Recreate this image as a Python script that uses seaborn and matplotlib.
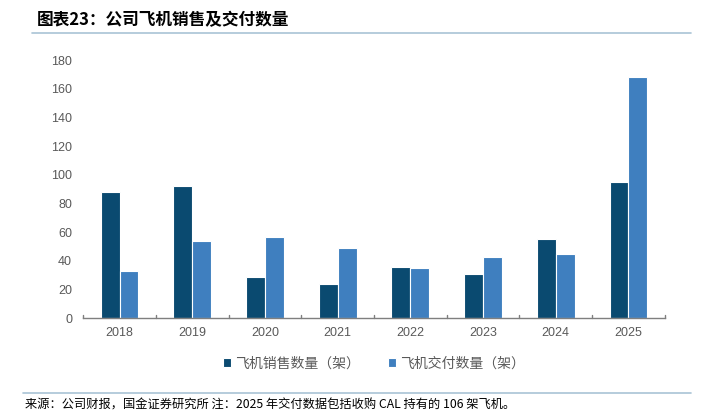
import matplotlib
matplotlib.use("Agg")
import matplotlib.pyplot as plt
import seaborn as sns
import pandas as pd

years = ["2018", "2019", "2020", "2021", "2022", "2023", "2024", "2025"]
sales = [88, 92, 29, 24, 36, 31, 55, 95]
deliveries = [33, 54, 57, 49, 35, 43, 45, 168]
series_names = ["飞机销售数量（架）", "飞机交付数量（架）"]
yticks = [0, 20, 40, 60, 80, 100, 120, 140, 160, 180]

title = "图表23：公司飞机销售及交付数量"
footer = "来源：公司财报，国金证券研究所 注：2025 年交付数据包括收购 CAL 持有的 106 架飞机。"

df = pd.DataFrame({
    "year": years * 2,
    "value": sales + deliveries,
    "series": [series_names[0]] * len(years) + [series_names[1]] * len(years),
})

sns.set_theme(style="white")
plt.rcParams['font.family'] = ['Noto Sans CJK SC', 'DejaVu Sans']

fig = plt.figure(figsize=(7.05, 4.17), dpi=100)
ax = fig.add_axes([0.118, 0.2367, 0.825, 0.6193])

palette = {series_names[0]: "#0A4A70", series_names[1]: "#3F7FBF"}
sns.barplot(data=df, x="year", y="value", hue="series", palette=palette,
            width=0.52, ax=ax, edgecolor="white", linewidth=0.8, saturation=1)

ax.set_ylim(0, 180)
ax.set_yticks(yticks)
ax.set_xlim(-0.5, len(years) - 0.5)
ax.set_xlabel("")
ax.set_ylabel("")
for s in ["top", "right", "left"]:
    ax.spines[s].set_visible(False)
ax.spines["bottom"].set_color("#7F7F7F")
ax.spines["bottom"].set_linewidth(1.0)
ax.tick_params(axis="y", length=0, labelsize=9, labelcolor="#595959", pad=8)
ax.tick_params(axis="x", length=0, labelsize=9, labelcolor="#595959", pad=6)
for lbl in ax.get_xticklabels() + ax.get_yticklabels():
    lbl.set_family(["Liberation Sans", "DejaVu Sans"])
# category separators on the axis
for b in range(len(years) + 1):
    ax.plot([b - 0.5, b - 0.5], [0, 2.2], color="#7F7F7F", lw=1.0, clip_on=False)

leg = ax.legend(loc="upper center", bbox_to_anchor=(0.5, -0.1), ncol=2, frameon=False,
                fontsize=10, handlelength=0.6, handleheight=0.6, handletextpad=0.3,
                columnspacing=2.0)
for t in leg.get_texts():
    t.set_color("#595959")

fig.text(0.052, 0.952, title, fontsize=12, fontweight="bold", color="black",
         va="center", ha="left", style="italic")
fig.add_artist(plt.Line2D([0.045, 0.98], [0.92, 0.92], color="#A9C4D6", lw=1.2))
fig.add_artist(plt.Line2D([0.033, 0.98], [0.058, 0.058], color="#A9C4D6", lw=1.2))
fig.text(0.036, 0.029, footer, fontsize=8.8, color="black", va="center", ha="left")

fig.savefig("out.png", dpi=100)
